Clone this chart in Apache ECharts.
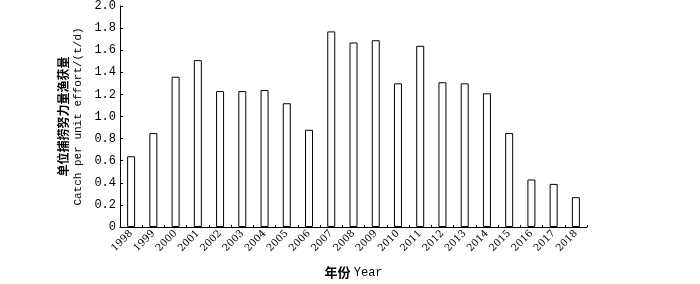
<!DOCTYPE html>
<html><head><meta charset="utf-8">
<script src="https://cdn.jsdelivr.net/npm/echarts@6/dist/echarts.min.js"></script>
<style>html,body{margin:0;padding:0;background:#fff}#c{width:700px;height:284px}</style>
</head><body><div id="c"></div>
<script>
var years = ['1998','1999','2000','2001','2002','2003','2004','2005','2006','2007','2008','2009','2010','2011','2012','2013','2014','2015','2016','2017','2018'];
var cpue = [0.64,0.85,1.36,1.51,1.23,1.23,1.24,1.12,0.88,1.77,1.67,1.69,1.30,1.64,1.31,1.30,1.21,0.85,0.43,0.39,0.27];
var yTicks = ['0','0.2','0.4','0.6','0.8','1.0','1.2','1.4','1.6','1.8','2.0'];
var chart = echarts.init(document.getElementById('c'), null, {renderer:'canvas'});
chart.setOption({
  animation:false,
  grid:{left:120,right:113,top:6,bottom:52,containLabel:false},
  xAxis:{
    type:'category', data:years,
    name:'{zh|年份} {en|Year}', nameLocation:'middle', nameGap:39,
    nameTextStyle:{color:'#000',rich:{zh:{fontSize:13,fontFamily:'Noto Sans CJK SC',fontWeight:'bold',color:'#000'},en:{fontSize:12,fontFamily:'Liberation Mono',color:'#000'}}},
    axisLine:{lineStyle:{color:'#000',width:1}},
    axisTick:{show:true,inside:true,length:2,lineStyle:{color:'#000'}},
    axisLabel:{color:'#000',rotate:45,fontSize:10,fontFamily:'DejaVu Serif',margin:5,interval:0}
  },
  yAxis:{
    type:'value', min:0, max:2, interval:0.2,
    name:'{zh|单位捕捞努力量渔获量}\n{en|Catch per unit effort/(t/d)}', nameLocation:'middle', nameGap:31,
    nameTextStyle:{color:'#000',rich:{
      zh:{fontSize:12,lineHeight:15,fontFamily:'Noto Sans CJK SC',fontWeight:'bold',color:'#000'},
      en:{fontSize:11,lineHeight:14,fontFamily:'Liberation Mono',color:'#000'}}},
    axisLine:{show:true,lineStyle:{color:'#000',width:1}},
    axisTick:{show:true,inside:true,length:3,lineStyle:{color:'#000'}},
    splitLine:{show:false},
    axisLabel:{color:'#000',fontSize:12,fontFamily:'Liberation Mono',margin:4,
      formatter:function(v){var i=Math.round(v/0.2);return yTicks[i];}}
  },
  series:[{type:'bar',data:cpue,barWidth:8,
    itemStyle:{color:'#fff',borderColor:'#000',borderWidth:1}}]
});
</script></body></html>
